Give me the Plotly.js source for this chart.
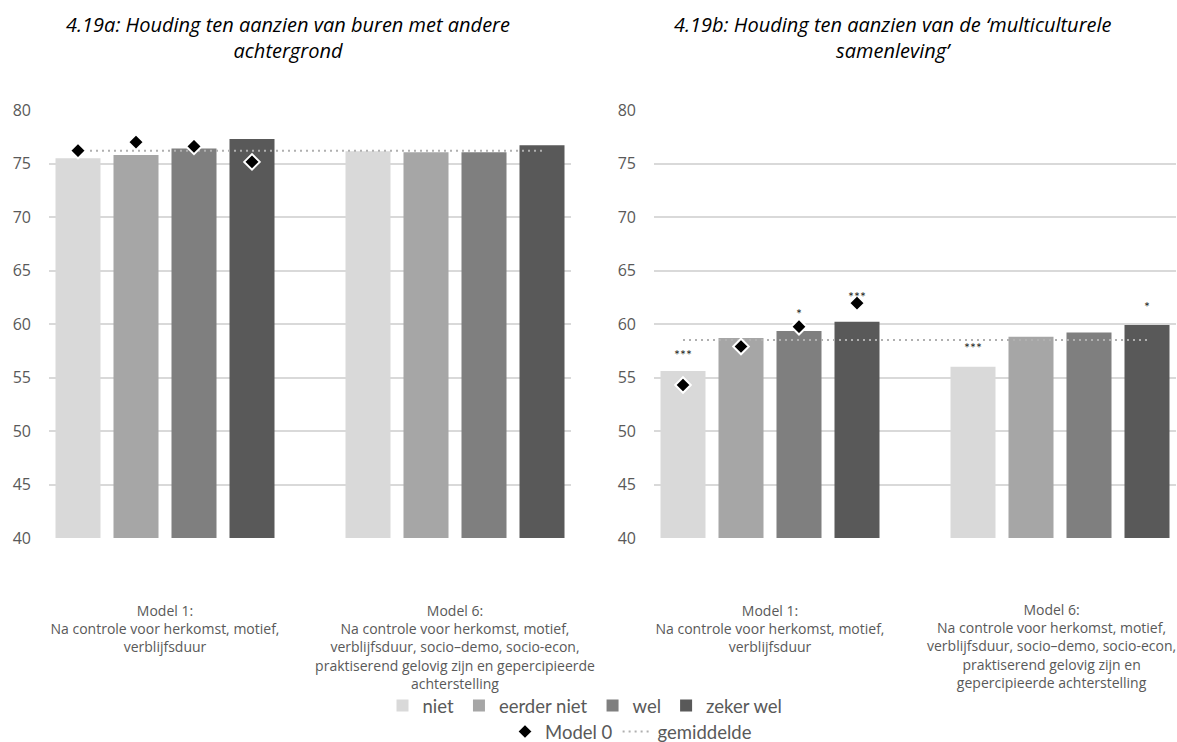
<!DOCTYPE html>
<html>
<head>
<meta charset="utf-8">
<script src="https://cdn.plot.ly/plotly-3.0.1.min.js"></script>
<style>html,body{margin:0;padding:0;background:#fff;}#chart{width:1177px;height:742px;}</style>
</head>
<body>
<div id="chart"></div>
<script>
// ---- Data ----
const seriesNames = ['niet', 'eerder niet', 'wel', 'zeker wel'];
const leftTickLabels = [
  'Model 1:<br>Na controle voor herkomst, motief,<br>verblijfsduur',
  'Model 6:<br>Na controle voor herkomst, motief,<br>verblijfsduur, socio–demo, socio-econ,<br>praktiserend gelovig zijn en gepercipieerde<br>achterstelling'
];
const rightTickLabels = [
  'Model 1:<br>Na controle voor herkomst, motief,<br>verblijfsduur',
  'Model 6:<br>Na controle voor herkomst, motief,<br>verblijfsduur, socio–demo, socio-econ,<br>praktiserend gelovig zijn en<br>gepercipieerde achterstelling'
];
const titleA = '4.19a: Houding ten aanzien van buren met andere<br>achtergrond';
const titleB = '4.19b: Houding ten aanzien van de ‘multiculturele<br>samenleving’';

// 4.19a (values per model: [Model 1, Model 6])
const aNiet = [75.5, 76.15];
const aEerderNiet = [75.8, 76.05];
const aWel = [76.4, 76.05];
const aZekerWel = [77.3, 76.7];
const aModel0 = [76.2, 77.0, 76.6, 75.15];
const aGemiddelde = 76.2;

// 4.19b
const bNiet = [55.6, 56.0];
const bEerderNiet = [58.7, 58.8];
const bWel = [59.35, 59.2];
const bZekerWel = [60.2, 59.9];
const bModel0 = [54.3, 57.9, 59.75, 61.95];
const bGemiddelde = 58.5;
const bSigModel1 = ['***', '', '*', '***'];
const bSigModel6 = ['***', '', '', '*'];

// ---- Styling ----
const colors = ['#d9d9d9', '#a6a6a6', '#7f7f7f', '#595959'];
const FONT = 'Lato, sans-serif';
const FONT2 = '"Open Sans", sans-serif';
const textGrey = '#595959';
const BARGAP = 0.2, GROUPGAP = 0.224;
const slot = (1 - BARGAP) / seriesNames.length;
const pos = (group, i) => group + (i - (seriesNames.length - 1) / 2) * slot;
const yMin = 40, yMax = 80;
const mT = 110, mB = 204, H = 742;
const pxPerUnit = (H - mT - mB) / (yMax - yMin);

const traces = [];
function addPanel(bars, model0, avg, xa, ya, showLegend) {
  bars.forEach((vals, i) => {
    traces.push({
      type: 'bar', x: [0, 1], y: vals, name: seriesNames[i],
      marker: {color: colors[i]}, xaxis: xa, yaxis: ya,
      showlegend: showLegend, legend: 'legend', hoverinfo: 'skip'
    });
  });
  traces.push({
    type: 'scatter', mode: 'lines',
    x: [pos(0, 0), pos(1, seriesNames.length - 1)], y: [avg, avg],
    name: 'gemiddelde', line: {color: '#b0b0b0', width: 2, dash: '2px,4px'},
    xaxis: xa, yaxis: ya, showlegend: showLegend, legend: 'legend2', hoverinfo: 'skip'
  });
  traces.push({
    type: 'scatter', mode: 'markers',
    x: model0.map((_, i) => pos(0, i)), y: model0,
    name: 'Model 0',
    marker: {symbol: 'diamond', size: 12, color: '#000', line: {color: '#fff', width: 2}},
    xaxis: xa, yaxis: ya, showlegend: showLegend, legend: 'legend2', hoverinfo: 'skip'
  });
}
const aBars = [aNiet, aEerderNiet, aWel, aZekerWel];
const bBars = [bNiet, bEerderNiet, bWel, bZekerWel];
addPanel(aBars, aModel0, aGemiddelde, 'x', 'y', true);
addPanel(bBars, bModel0, bGemiddelde, 'x2', 'y2', false);

const annotations = [];
function starAnn(group, i, text, markerVal) {
  if (!text) return;
  const barVal = bBars[i][group];
  let shift = 19;
  if (markerVal !== null) shift = Math.max(17, (markerVal - barVal) * pxPerUnit + 7);
  annotations.push({
    xref: 'x2', yref: 'y2', x: pos(group, i), y: barVal, yshift: shift,
    text: text, showarrow: false, yanchor: 'middle',
    font: {family: FONT, size: 14, color: '#262626'}
  });
}
bSigModel1.forEach((t, i) => starAnn(0, i, t, bModel0[i]));
bSigModel6.forEach((t, i) => starAnn(1, i, t, null));

const mL = 49, mR = 1, W = 1177;
const plotW = W - mL - mR;
const pxX = px => (px - mL) / plotW;
const pxY = py => (H - mB - py) / (H - mT - mB);

[[titleA, 288], [titleB, 893]].forEach(([t, cx]) => {
  annotations.push({
    xref: 'paper', yref: 'paper', x: pxX(cx), y: pxY(37), xanchor: 'center', yanchor: 'middle',
    text: '<i>' + t + '</i>', showarrow: false, align: 'center',
    font: {family: FONT2, size: 20, color: '#000', style: 'italic'}
  });
});

const LABEL_STANDOFF = 63;
const labelFont = {family: FONT2, size: 14, color: textGrey};
// right-panel Model 6 label is kept inside the chart area (as in the original), so drawn as an annotation
annotations.push({
  xref: 'x2', yref: 'paper', x: 1, xshift: -9, y: 0, yshift: -LABEL_STANDOFF + 3,
  xanchor: 'center', yanchor: 'top', text: rightTickLabels[1], showarrow: false, align: 'center',
  font: labelFont
});

const yax = {
  range: [yMin, yMax], dtick: 5, tick0: 40, showgrid: true, gridcolor: '#d9d9d9', gridwidth: 2,
  zeroline: false, showline: false, ticks: '', ticklabelstandoff: 17,
  tickfont: {family: FONT2, size: 16, color: textGrey}, fixedrange: true
};
const xax = {
  range: [-0.4, 1.4], showgrid: false, zeroline: false, showline: false,
  ticks: '', ticklabelstandoff: LABEL_STANDOFF, ticklabeloverflow: 'allow',
  tickfont: labelFont, fixedrange: true
};

const layout = {
  width: W, height: H,
  margin: {l: mL, r: mR, t: mT, b: mB, pad: 0, autoexpand: false},
  paper_bgcolor: '#fff', plot_bgcolor: '#fff',
  barmode: 'group', bargap: BARGAP, bargroupgap: GROUPGAP,
  font: {family: FONT, color: textGrey},
  xaxis: Object.assign({}, xax, {domain: [0, pxX(571)], tickvals: [0, 1], ticktext: leftTickLabels, anchor: 'y'}),
  yaxis: Object.assign({}, yax, {anchor: 'x'}),
  xaxis2: Object.assign({}, xax, {domain: [pxX(654), 1], tickvals: [0], ticktext: [rightTickLabels[0]], anchor: 'y2'}),
  yaxis2: Object.assign({}, yax, {anchor: 'x2'}),
  legend: {
    orientation: 'h', x: pxX(585), xanchor: 'center', y: pxY(706), yanchor: 'middle',
    font: {family: FONT, size: 18.5, color: textGrey}, itemwidth: 30, bgcolor: 'rgba(0,0,0,0)',
    traceorder: 'normal'
  },
  legend2: {
    orientation: 'h', x: pxX(631), xanchor: 'center', y: pxY(732), yanchor: 'middle',
    font: {family: FONT, size: 18.5, color: textGrey}, itemwidth: 30, bgcolor: 'rgba(0,0,0,0)',
    traceorder: 'reversed'
  },
  annotations: annotations,
  showlegend: true
};
Plotly.newPlot('chart', traces, layout, {displayModeBar: false, staticPlot: true});
</script>
</body>
</html>
